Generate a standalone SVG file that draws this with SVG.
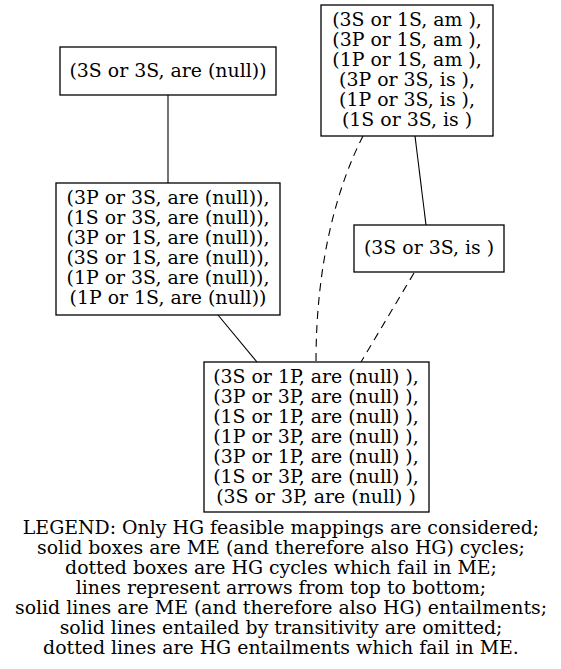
<svg xmlns="http://www.w3.org/2000/svg" width="561" height="669" viewBox="0 0 561 669">
<style>
text{font-family:"DejaVu Serif",serif;font-size:18.9px;text-anchor:middle;fill:#000}
.box{fill:#fff;stroke:#000;stroke-width:1.3}
.e{fill:none;stroke:#000;stroke-width:1.1}
.d{stroke-dasharray:8,6}
</style>
<rect width="561" height="669" fill="#fff"/>
<g id="connectors">
<path class="e" d="M168,95 L168,183"/>
<path class="e" d="M415,136 L426,225"/>
<path class="e d" d="M363,136 C338,185 316,260 316,362"/>
<path class="e d" d="M414,273 L361,362"/>
<path class="e" d="M218,315 L257,362"/>
</g>
<g id="n1">
<rect class="box" x="60" y="47" width="216" height="48"/>
<text x="168" y="77">(3S or 3S, are (null))</text>
</g>
<g id="n2">
<rect class="box" x="321" y="5" width="172" height="131"/>
<text x="407" y="26">(3S or 1S, am ),</text>
<text x="407" y="46">(3P or 1S, am ),</text>
<text x="407" y="66">(1P or 1S, am ),</text>
<text x="407" y="86">(3P or 3S, is ),</text>
<text x="407" y="106">(1P or 3S, is ),</text>
<text x="407" y="126">(1S or 3S, is )</text>
</g>
<g id="n3">
<rect class="box" x="56" y="183" width="224" height="132"/>
<text x="168" y="204">(3P or 3S, are (null)),</text>
<text x="168" y="224">(1S or 3S, are (null)),</text>
<text x="168" y="244">(3P or 1S, are (null)),</text>
<text x="168" y="264">(3S or 1S, are (null)),</text>
<text x="168" y="284">(1P or 3S, are (null)),</text>
<text x="168" y="304">(1P or 1S, are (null))</text>
</g>
<g id="n4">
<rect class="box" x="354" y="225" width="150" height="47"/>
<text x="429" y="254">(3S or 3S, is )</text>
</g>
<g id="n5">
<rect class="box" x="204" y="362" width="225" height="150"/>
<text x="316" y="383">(3S or 1P, are (null) ),</text>
<text x="316" y="403">(3P or 3P, are (null) ),</text>
<text x="316" y="423">(1S or 1P, are (null) ),</text>
<text x="316" y="443">(1P or 3P, are (null) ),</text>
<text x="316" y="463">(3P or 1P, are (null) ),</text>
<text x="316" y="483">(1S or 3P, are (null) ),</text>
<text x="316" y="503">(3S or 3P, are (null) )</text>
</g>
<g id="legend">
<text x="281" y="534">LEGEND: Only HG feasible mappings are considered;</text>
<text x="281" y="554">solid boxes are ME (and therefore also HG) cycles;</text>
<text x="281" y="574">dotted boxes are HG cycles which fail in ME;</text>
<text x="281" y="594">lines represent arrows from top to bottom;</text>
<text x="281" y="614">solid lines are ME (and therefore also HG) entailments;</text>
<text x="281" y="634">solid lines entailed by transitivity are omitted;</text>
<text x="281" y="654">dotted lines are HG entailments which fail in ME.</text>
</g>
</svg>
